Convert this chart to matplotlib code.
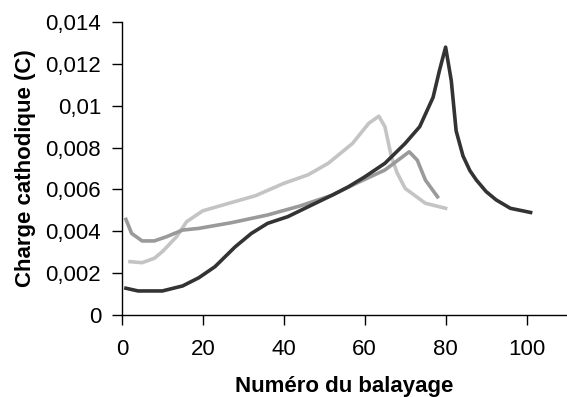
import matplotlib.pyplot as plt
import numpy as np
from matplotlib.ticker import FuncFormatter

plt.rcParams['font.family'] = ['Liberation Sans', 'DejaVu Sans']

# dark series
x_dark = [1, 4, 10, 15, 19, 23, 28, 32, 36, 41, 46, 52, 56, 60, 65, 70, 73.6, 76.9, 78.5, 80,
          81.4, 82.6, 84.3, 86, 87.6, 90, 92.5, 96, 101]
y_dark = [0.00128, 0.00115, 0.00115, 0.00139, 0.00178, 0.00231, 0.00326, 0.0039, 0.00438,
          0.0047, 0.00517, 0.00573, 0.00613, 0.0066, 0.00725, 0.0082, 0.009, 0.0104, 0.0117,
          0.0128, 0.0112, 0.0088, 0.0076, 0.0069, 0.00645, 0.0059, 0.0055, 0.0051, 0.0049]

# medium grey series
x_mid = [1, 2.4, 5, 8, 11, 15, 19, 27, 36, 44, 52, 58, 65, 71, 73, 75, 78]
y_mid = [0.00457, 0.0039, 0.00354, 0.00354, 0.00374, 0.00406, 0.00414, 0.00441, 0.00478,
         0.00521, 0.00573, 0.0063, 0.00693, 0.0078, 0.0074, 0.00645, 0.00565]

# light grey series
x_light = [2, 5, 8, 10, 13.5, 16, 20, 27, 33, 40, 46, 51, 57, 61, 63.5, 65, 66.6, 68, 70,
           75, 80]
y_light = [0.00255, 0.0025, 0.00271, 0.00303, 0.00374, 0.00446, 0.00498, 0.00537, 0.0057,
           0.00629, 0.0067, 0.00725, 0.0082, 0.00916, 0.0095, 0.009, 0.00756, 0.0068, 0.00605,
           0.00534, 0.0051]

fig = plt.figure(figsize=(5.67, 3.97), dpi=100)
ax = fig.add_axes([0.215, 0.2065, 0.785, 0.738])

ax.plot(x_light, y_light, color='#c4c4c4', lw=2.6, solid_joinstyle='round')
ax.plot(x_mid, y_mid, color='#9a9a9a', lw=2.6, solid_joinstyle='round')
ax.plot(x_dark, y_dark, color='#333333', lw=2.6, solid_joinstyle='round')

ax.set_xlim(0, 110)
ax.set_ylim(0, 0.014)
ax.set_xticks(np.arange(0, 101, 20))
ax.set_yticks(np.arange(0, 0.0141, 0.002))
ax.yaxis.set_major_formatter(FuncFormatter(lambda v, p: f'{v:g}'.replace('.', ',')))

for s in ['top', 'right']:
    ax.spines[s].set_visible(False)
for s in ['left', 'bottom']:
    ax.spines[s].set_color('black')
    ax.spines[s].set_linewidth(1)

ax.tick_params(direction='out', length=7, width=1, labelsize=16, colors='black')
ax.tick_params(axis='x', pad=10)
ax.tick_params(axis='y', pad=8)
ax.set_xlabel('Numéro du balayage', fontsize=16, fontweight='bold', labelpad=12)
ax.set_ylabel('Charge cathodique (C)', fontsize=16, fontweight='bold', labelpad=7)

fig.savefig('out.png', dpi=100)
